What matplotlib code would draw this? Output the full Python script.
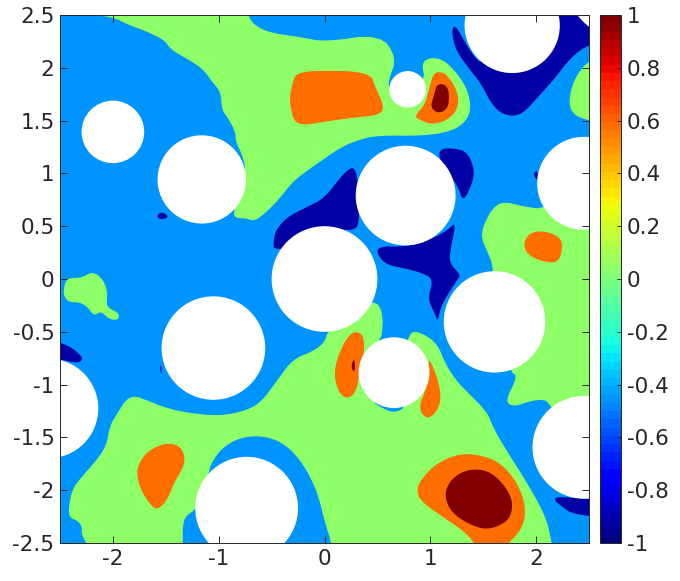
import matplotlib
matplotlib.use('Agg')
import matplotlib.pyplot as plt
from matplotlib.colors import Normalize
from matplotlib.cm import ScalarMappable
from matplotlib.patches import Circle

plt.rcParams['font.family'] = 'DejaVu Sans'
plt.rcParams['axes.unicode_minus'] = False

# level each filled band sits at
LOW = -0.92
MID = -0.44
ZERO = 0.035
HIGH = 0.57
TOP = 1.0

# holes in the domain: x, y, r
holes = [
    (-2.0, 1.393, 0.296), (-1.16, 0.943, 0.418), (0.786, 1.796, 0.173),
    (1.774, 2.40, 0.45), (0.767, 0.79, 0.472), (2.45, 0.906, 0.44),
    (0.0, 0.0, 0.5), (-1.05, -0.654, 0.49), (-2.61, -1.226, 0.472),
    (-0.736, -2.17, 0.486), (0.657, -0.887, 0.335), (1.607, -0.406, 0.48),
    (2.453, -1.594, 0.487), (2.95, 2.95, 0.72),
]

green_top = [(-2.2, 2.7), (-2.2, 2.5), (-2.0, 2.48), (-1.86, 2.41), (-1.67, 2.34), (-1.51, 2.26), (-1.45, 2.17),
             (-1.29, 2.08), (-1.15, 1.99), (-1.06, 1.865), (-0.98, 1.77), (-0.97, 1.6), (-0.915, 1.53),
             (-0.84, 1.39), (-0.84, 1.30), (-0.77, 1.16), (-0.74, 1.0), (-0.87, 0.62), (-0.83, 0.575),
             (-0.74, 0.575), (-0.66, 0.545), (-0.53, 0.65), (-0.41, 0.78), (-0.30, 0.92), (-0.16, 1.03),
             (0.0, 1.14), (0.16, 1.25), (0.315, 1.315), (0.50, 1.36), (0.915, 1.355), (1.167, 1.39),
             (1.32, 1.47), (1.387, 1.6), (1.355, 1.786), (1.26, 1.94), (1.135, 2.07), (1.01, 2.10),
             (0.915, 2.05), (0.956, 1.865), (0.616, 1.80), (0.60, 1.865), (0.685, 2.1), (0.52, 2.32),
             (0.0, 2.245), (-0.22, 2.29), (-0.51, 2.33), (-0.66, 2.40), (-0.73, 2.5), (-0.72, 2.7)]
green_edge = [(2.7, 2.1), (2.5, 2.07), (2.39, 1.943), (2.33, 1.80), (2.31, 1.645), (2.36, 1.55), (2.5, 1.50), (2.7, 1.45)]
green_right = [(2.45, 0.9), (2.08, 0.66), (1.89, 0.685), (1.70, 0.733), (1.60, 0.685), (1.51, 0.53),
               (1.48, 0.40), (1.53, 0.277), (1.60, 0.12), (1.6, -0.4), (1.76, -0.887), (1.827, -0.918),
               (1.705, -1.16), (1.79, -1.21), (1.95, -1.154), (2.08, -1.14), (2.125, -1.186),
               (2.45, -1.6), (2.7, -1.6), (2.7, 0.9)]
green_patch = [(-2.19, 0.072), (-2.09, -0.006), (-2.05, -0.13), (-2.06, -0.21), (-2.05, -0.27), (-1.95, -0.32),
               (-1.94, -0.37), (-1.98, -0.39), (-2.05, -0.37), (-2.11, -0.305), (-2.18, -0.35), (-2.235, -0.27),
               (-2.31, -0.22), (-2.42, -0.22), (-2.47, -0.15), (-2.455, -0.04), (-2.42, 0.01), (-2.3, 0.01)]
green_bottom = [(-1.875, -1.14), (-1.795, -1.107), (-1.70, -1.14), (-1.51, -1.217), (-1.29, -1.27), (-0.98, -1.296),
                (-0.755, -1.25), (-0.60, -1.17), (-0.44, -0.95), (-0.30, -0.76), (-0.1, -0.68), (0.0, -0.60),
                (0.03, -0.5), (0.2, -0.3), (0.475, -0.195), (0.553, -0.32), (0.544, -0.54), (0.5, -0.6),
                (0.7, -0.8), (0.79, -0.56), (0.836, -0.49), (0.946, -0.525), (1.07, -0.62), (1.15, -0.82),
                (1.26, -0.98), (1.387, -1.107), (1.54, -1.264), (1.60, -1.42), (1.73, -1.64), (1.89, -1.89),
                (2.09, -2.24), (2.15, -2.5), (2.17, -2.7), (0.09, -2.7), (0.066, -2.5), (0.0, -2.29), (-0.066, -2.02),
                (-0.19, -1.767), (-0.35, -1.58), (-0.54, -1.49), (-0.76, -1.49), (-0.95, -1.58), (-1.07, -1.736),
                (-1.10, -1.86), (-1.21, -2.18), (-1.31, -2.24), (-1.34, -2.33), (-1.34, -2.5), (-1.34, -2.7),
                (-2.2, -2.7), (-2.25, -2.5), (-2.30, -2.41), (-2.29, -2.35), (-2.33, -2.29), (-2.42, -2.255),
                (-2.41, -2.11), (-2.38, -1.99), (-2.31, -1.89), (-2.17, -1.735), (-2.06, -1.58), (-2.03, -1.39),
                (-1.95, -1.26)]
# blue cap left under the small hole, drawn over the green
blue_cap = [(0.443, -1.154), (0.535, -1.217), (0.66, -1.27), (0.78, -1.207), (0.65, -1.0)]

orange_top = [(-0.27, 1.943), (-0.13, 1.97), (0.0, 1.97), (0.255, 1.97), (0.445, 1.93), (0.475, 1.83),
              (0.57, 1.62), (0.505, 1.55), (0.286, 1.53), (0.0, 1.49), (-0.19, 1.456), (-0.29, 1.49),
              (-0.32, 1.63), (-0.33, 1.72), (-0.30, 1.865)]
orange_hook = [(1.07, 1.965), (1.15, 1.943), (1.23, 1.83), (1.27, 1.71), (1.245, 1.58), (1.135, 1.49),
               (1.01, 1.465), (0.915, 1.50), (0.846, 1.54), (0.947, 1.645), (0.994, 1.82), (1.025, 1.93)]
orange_right = [(2.016, 0.456), (2.14, 0.44), (2.25, 0.37), (2.24, 0.23), (2.19, 0.15), (2.05, 0.167),
                (1.92, 0.23), (1.88, 0.325), (1.92, 0.42)]
orange_left = [(-1.48, -1.553), (-1.37, -1.58), (-1.32, -1.67), (-1.33, -1.78), (-1.42, -1.925), (-1.48, -2.08),
               (-1.56, -2.176), (-1.62, -2.17), (-1.72, -2.03), (-1.77, -1.89), (-1.77, -1.78), (-1.70, -1.66),
               (-1.60, -1.59)]
orange_mid1 = [(0.286, -0.494), (0.365, -0.525), (0.38, -0.667), (0.33, -0.887), (0.30, -1.075), (0.205, -1.14),
               (0.126, -1.06), (0.09, -0.90), (0.126, -0.73), (0.21, -0.557)]
orange_mid2 = [(0.978, -0.736), (1.05, -0.887), (1.10, -1.075), (1.085, -1.217), (0.994, -1.327), (0.915, -1.28),
               (0.90, -1.186), (0.947, -1.075), (0.994, -0.918)]
orange_big = [(1.29, -1.65), (1.51, -1.673), (1.70, -1.767), (1.855, -1.987), (1.906, -2.207), (1.86, -2.38),
              (1.72, -2.52), (1.62, -2.7), (1.48, -2.7), (1.42, -2.5), (1.325, -2.396), (1.167, -2.286),
              (0.915, -2.113), (0.868, -2.0), (0.915, -1.893), (1.07, -1.736)]

red_hook = [(1.063, 1.85), (1.15, 1.84), (1.18, 1.755), (1.167, 1.61), (1.07, 1.566), (1.0, 1.63), (1.035, 1.74)]
red_sliver = [(0.28, -0.75), (0.25, -0.83), (0.28, -0.887), (0.29, -0.83)]
red_big = [(1.387, -1.80), (1.54, -1.814), (1.665, -1.91), (1.76, -2.05), (1.78, -2.176), (1.73, -2.30),
           (1.54, -2.38), (1.355, -2.318), (1.20, -2.21), (1.135, -2.066), (1.167, -1.94), (1.26, -1.846)]

dark_top = [(1.23, 2.415), (1.2, 2.336), (1.245, 2.16), (1.355, 2.006), (1.48, 1.85), (1.56, 1.69), (1.65, 1.58),
            (1.764, 1.54), (1.874, 1.566), (2.016, 1.72), (2.173, 1.896), (2.33, 2.10), (2.5, 2.226), (2.7, 2.2),
            (2.7, 2.7), (2.22, 2.7), (1.75, 2.3), (1.5, 2.03), (1.41, 2.11), (1.33, 2.24)]
dark_a = [(1.066, 1.236), (1.26, 1.236), (1.355, 1.19), (1.41, 1.06), (1.41, 0.937), (1.31, 0.72), (1.26, 0.89), (1.12, 1.05)]
dark_b = [(0.29, 1.07), (0.19, 1.015), (0.0, 0.765), (-0.16, 0.685), (-0.35, 0.59), (-0.46, 0.465), (-0.485, 0.34),
          (-0.475, 0.277), (-0.3, 0.3), (0.0, 0.45), (0.19, 0.465), (0.27, 0.465), (0.33, 0.51), (0.32, 0.87)]
dark_c = [(1.245, 0.544), (1.19, 0.277), (1.18, 0.15), (1.286, 0.04), (1.26, 0.0), (1.10, -0.25), (1.07, -0.41),
          (1.04, -0.32), (0.975, -0.19), (1.03, 0.0), (0.915, 0.06), (0.76, 0.10), (0.585, 0.135), (0.5, 0.23),
          (0.506, 0.31), (0.77, 0.305), (1.01, 0.377), (1.167, 0.465)]
dark_d = [(1.97, 1.0), (2.016, 1.03), (2.016, 0.92)]
dark_e = [(2.17, -2.09), (2.2, -2.06), (2.45, -2.08), (2.7, -2.08), (2.7, -2.26), (2.35, -2.23), (2.23, -2.145)]
dark_f = [(-1.59, 0.59), (-1.545, 0.64), (-1.465, 0.59), (-1.54, 0.56)]
dark_g = [(-1.555, -0.82), (-1.54, -0.82), (-1.54, -0.91), (-1.55, -0.88)]
dark_h = [(-2.7, -0.55), (-2.5, -0.60), (-2.39, -0.65), (-2.33, -0.70), (-2.28, -0.755), (-2.33, -0.80), (-2.5, -0.76), (-2.7, -0.76)]

bands = [
    (ZERO, [green_top, green_edge, green_right, green_patch, green_bottom]),
    (MID, [blue_cap]),
    (HIGH, [orange_top, orange_hook, orange_right, orange_left, orange_mid1, orange_mid2, orange_big]),
    (TOP, [red_hook, red_sliver, red_big]),
    (LOW, [dark_top, dark_a, dark_b, dark_c, dark_d, dark_e, dark_f, dark_g, dark_h]),
]

ticks = [-2.5, -2, -1.5, -1, -0.5, 0, 0.5, 1, 1.5, 2, 2.5]
cbar_ticks = [-1, -0.8, -0.6, -0.4, -0.2, 0, 0.2, 0.4, 0.6, 0.8, 1]


# round off the corners of a traced outline
def soften(poly, times=2):
    for _ in range(times):
        out = []
        for i in range(len(poly)):
            x0, y0 = poly[i]
            x1, y1 = poly[(i + 1) % len(poly)]
            out.append((0.75 * x0 + 0.25 * x1, 0.75 * y0 + 0.25 * y1))
            out.append((0.25 * x0 + 0.75 * x1, 0.25 * y0 + 0.75 * y1))
        poly = out
    return poly


fig = plt.figure(figsize=(6.8, 5.81), dpi=100)
ax = fig.add_axes([60 / 680, 1 - 543 / 581, 529 / 680, 528 / 581])

cmap = plt.get_cmap('jet', 64)
norm = Normalize(-1, 1)

ax.set_facecolor(cmap(norm(MID)))
for level, polys in bands:
    for poly in polys:
        smooth = soften(poly)
        xs = [p[0] for p in smooth]
        ys = [p[1] for p in smooth]
        ax.fill(xs, ys, color=cmap(norm(level)), lw=0)
for x, y, r in holes:
    ax.add_patch(Circle((x, y), r, color='white', lw=0))

ax.set_xlim(-2.5, 2.5)
ax.set_ylim(-2.5, 2.5)
ax.set_xticks([-2, -1, 0, 1, 2])
ax.set_xticklabels(['-2', '-1', '0', '1', '2'])
ax.set_yticks(ticks)
ax.set_yticklabels(['-2.5', '-2', '-1.5', '-1', '-0.5', '0', '0.5', '1', '1.5', '2', '2.5'])
ax.tick_params(direction='in', length=5, width=0.7, color='#262626', labelcolor='#262626',
               labelsize=15.5, top=True, right=True, pad=4)
for s in ax.spines.values():
    s.set_linewidth(0.7)
    s.set_color('#262626')

cax = fig.add_axes([600 / 680, 1 - 543 / 581, 21 / 680, 528 / 581])
cb = fig.colorbar(ScalarMappable(norm=norm, cmap=cmap), cax=cax)
cb.set_ticks(cbar_ticks)
cb.set_ticklabels(['-1', '-0.8', '-0.6', '-0.4', '-0.2', '0', '0.2', '0.4', '0.6', '0.8', '1'])
cax.tick_params(direction='in', length=3, width=0.7, color='#262626', labelcolor='#262626',
                labelsize=15.5, pad=4)
cb.outline.set_linewidth(0.7)
cb.outline.set_edgecolor('#262626')

fig.savefig('out.png', dpi=100)
